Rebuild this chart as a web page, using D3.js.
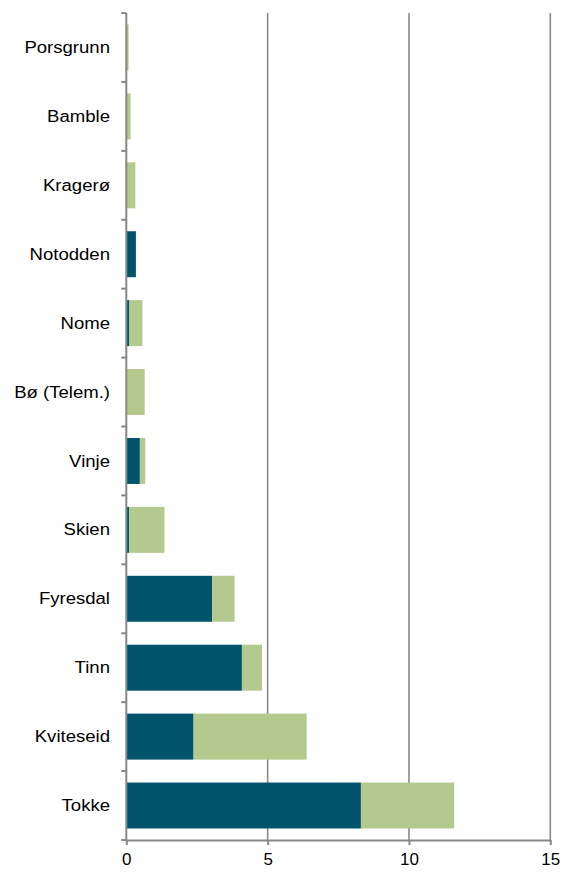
<html>
<head>
<meta charset="utf-8">
<script src="https://d3js.org/d3.v7.min.js"></script>
<style>
body { margin:0; background:#fff; }
</style>
</head>
<body>
<div id="container"></div>
<script>

var categories = ["Porsgrunn","Bamble","Kragerø","Notodden","Nome","Bø (Telem.)","Vinje","Skien","Fyresdal","Tinn","Kviteseid","Tokke"];
var darkVals  = [0, 0, 0, 0.34, 0.11, 0, 0.48, 0.10, 3.04, 4.09, 2.38, 8.30];
var greenVals = [0.08, 0.15, 0.32, 0, 0.46, 0.65, 0.19, 1.25, 0.79, 0.71, 4.00, 3.30];
var xTicks = [0, 5, 10, 15];

var width = 561, height = 872;
var margin = {top: 13, right: 10.7, bottom: 32, left: 126.3};

var svg = d3.select('#container').append('svg').attr('width', width).attr('height', height);

var x = d3.scaleLinear().domain([0, 15]).range([margin.left, width - margin.right]);
var y = d3.scaleBand().domain(categories).range([margin.top, height - margin.bottom])
	.paddingInner(0.333).paddingOuter(0.167);

var rows = categories.map(function(c, i) { return {cat: c, dark: darkVals[i], green: greenVals[i]}; });
var stack = d3.stack().keys(["dark", "green"])(rows);
var colors = {dark: "#02546D", green: "#B3C98D"};

// gridlines
svg.append('g').selectAll('line').data(xTicks.slice(1)).enter().append('line')
	.attr('x1', function(d) { return x(d); }).attr('x2', function(d) { return x(d); })
	.attr('y1', margin.top).attr('y2', height - margin.bottom)
	.attr('stroke', '#8a8a8a').attr('stroke-width', 1.6);

// bars
svg.append('g').selectAll('g').data(stack).enter().append('g')
	.attr('fill', function(s) { return colors[s.key]; })
	.selectAll('rect').data(function(s) { return s; }).enter().append('rect')
	.attr('x', function(d) { return x(d[0]); })
	.attr('width', function(d) { return x(d[1]) - x(d[0]); })
	.attr('y', function(d) { return y(d.data.cat); })
	.attr('height', y.bandwidth());

// y axis with ticks at band edges
var edges = categories.map(function(c) { return y(c) - y.step() * y.paddingInner() / 2; });
edges.push(height - margin.bottom);
var ya = svg.append('g');
ya.append('line').attr('x1', x(0)).attr('x2', x(0)).attr('y1', margin.top).attr('y2', height - margin.bottom)
	.attr('stroke', '#878787').attr('stroke-width', 2);
ya.selectAll('line.t').data(edges).enter().append('line').attr('class', 't')
	.attr('x1', x(0) - 5).attr('x2', x(0)).attr('y1', function(d) { return d; }).attr('y2', function(d) { return d; })
	.attr('stroke', '#878787').attr('stroke-width', 2);
// labels in the reference are a bit wider than plain Arial
ya.selectAll('text').data(categories).enter().append('text')
	.attr('transform', function(d) { return 'translate(110,' + (y(d) + y.bandwidth() / 2) + ') scale(1.16,1)'; })
	.attr('dy', '0.35em').attr('text-anchor', 'end')
	.style('font-family', 'Liberation Sans, Arial, sans-serif').style('font-size', '16px').attr('fill', '#000')
	.text(function(d) { return d; });

// x axis
var xa = svg.append('g').attr('transform', 'translate(0,' + (height - margin.bottom) + ')')
	.call(d3.axisBottom(x).tickValues(xTicks).tickSize(5).tickSizeOuter(0).tickPadding(8));
xa.select('.domain').attr('stroke', '#878787').attr('stroke-width', 2);
xa.selectAll('.tick line').attr('stroke', '#878787').attr('stroke-width', 2);
xa.selectAll('text').style('font-family', 'Liberation Sans, Arial, sans-serif').style('font-size', '17px').attr('fill', '#000');

</script>
</body>
</html>
